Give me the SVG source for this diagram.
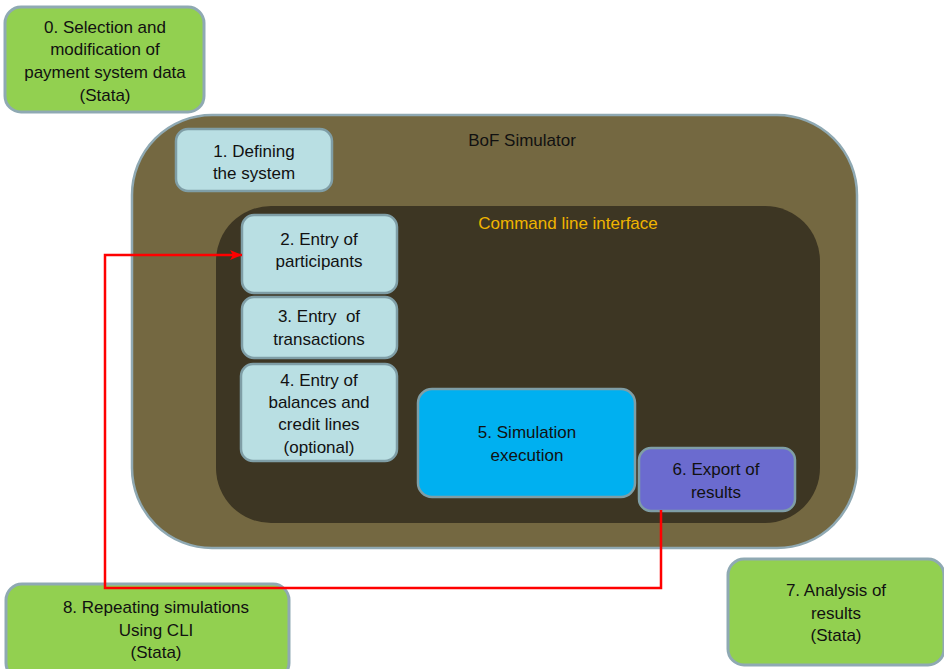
<svg xmlns="http://www.w3.org/2000/svg" width="944" height="669" viewBox="0 0 944 669">
<style>
  .t { font-family: "Liberation Sans", Arial, sans-serif; font-size: 17px; fill: #111; text-anchor: middle; }
  .green { fill: #92d050; stroke: #8fa9b3; stroke-width: 3; }
  .light { fill: #b9dfe3; stroke: #7f9ea6; stroke-width: 2.5; }
  .conn { fill: none; stroke: #ff0000; stroke-width: 2.5; }
</style>
<defs>
  <marker id="arr" viewBox="0 0 12 10" refX="12" refY="5" markerWidth="12" markerHeight="10" markerUnits="userSpaceOnUse" orient="auto">
    <path d="M0,0 L12,5 L0,10 L3,5 z" fill="#ff0000"/>
  </marker>
</defs>
<rect width="944" height="669" fill="#ffffff"/>

<g id="node0">
  <rect class="green" x="5" y="7" width="199" height="105" rx="16"/>
  <text class="t" x="105" y="33">0. Selection and</text>
  <text class="t" x="105" y="55">modification of</text>
  <text class="t" x="105" y="78">payment system data</text>
  <text class="t" x="105" y="101">(Stata)</text>
</g>

<g id="simulator">
  <rect x="132" y="115" width="725" height="433" rx="80" fill="#746841" stroke="#8fa9b3" stroke-width="2.5"/>
  <text class="t" x="522" y="146">BoF Simulator</text>
</g>

<g id="node1">
  <rect class="light" x="176" y="129" width="156" height="62" rx="12"/>
  <text class="t" x="254" y="157">1. Defining</text>
  <text class="t" x="254" y="179">the system</text>
</g>

<g id="cli">
  <rect x="216" y="206" width="604" height="317" rx="55" fill="#3d3623"/>
  <text class="t" x="568" y="229" style="fill:#f0b400">Command line interface</text>
</g>

<g id="node2">
  <rect class="light" x="242" y="215" width="155" height="78" rx="12"/>
  <text class="t" x="319" y="245">2. Entry of</text>
  <text class="t" x="319" y="267">participants</text>
</g>

<g id="node3">
  <rect class="light" x="242" y="297" width="155" height="61" rx="12"/>
  <text class="t" x="319" y="322" xml:space="preserve">3. Entry  of</text>
  <text class="t" x="319" y="345">transactions</text>
</g>

<g id="node4">
  <rect class="light" x="241" y="364" width="156" height="97" rx="12"/>
  <text class="t" x="319" y="386">4. Entry of</text>
  <text class="t" x="319" y="408">balances and</text>
  <text class="t" x="319" y="430">credit lines</text>
  <text class="t" x="319" y="453">(optional)</text>
</g>

<g id="node5">
  <rect x="418" y="389" width="217" height="108" rx="14" fill="#00b0f0" stroke="#7f9ea6" stroke-width="2.5"/>
  <text class="t" x="527" y="438">5. Simulation</text>
  <text class="t" x="527" y="461">execution</text>
</g>

<g id="node6">
  <rect x="639" y="448" width="156" height="63" rx="12" fill="#6b6bcf" stroke="#7f9ea6" stroke-width="2.5"/>
  <text class="t" x="716" y="475">6. Export of</text>
  <text class="t" x="716" y="498">results</text>
</g>

<g id="node7">
  <rect class="green" x="728" y="559" width="216" height="106" rx="16"/>
  <text class="t" x="836" y="596">7. Analysis of</text>
  <text class="t" x="836" y="619">results</text>
  <text class="t" x="836" y="641">(Stata)</text>
</g>

<g id="node8">
  <rect class="green" x="6" y="584" width="283" height="95" rx="16"/>
  <text class="t" x="156" y="613">8. Repeating simulations</text>
  <text class="t" x="156" y="636">Using CLI</text>
  <text class="t" x="156" y="658">(Stata)</text>
</g>

<g id="connectors">
  <path class="conn" d="M661,510 L661,588 L105,588 L105,255 L242,255" marker-end="url(#arr)"/>
</g>
</svg>
